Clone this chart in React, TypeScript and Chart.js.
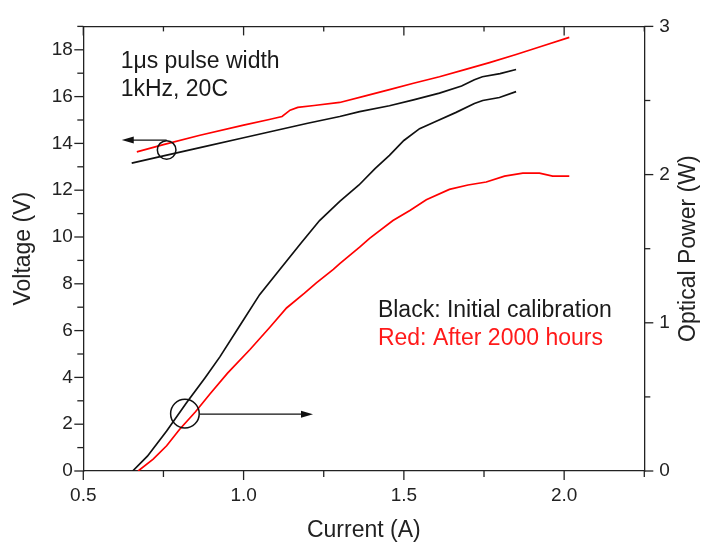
import React, { useEffect, useRef } from 'react';
import { Chart, registerables } from 'chart.js';

Chart.register(...registerables);

// ---- Data (Current in A) ----
const blackVCurrent = [0.651, 0.75, 0.864, 1.0, 1.1, 1.2, 1.3, 1.362, 1.455, 1.53, 1.611, 1.68, 1.72, 1.745, 1.8, 1.85];
const blackVoltage = [13.16, 13.47, 13.82, 14.24, 14.55, 14.86, 15.15, 15.36, 15.61, 15.86, 16.15, 16.45, 16.72, 16.85, 16.98, 17.16];

const redVCurrent = [0.667, 0.75, 0.864, 1.0, 1.08, 1.12, 1.145, 1.169, 1.22, 1.3, 1.38, 1.455, 1.53, 1.611, 1.69, 1.767, 1.85, 1.93, 2.016];
const redVoltage = [13.64, 13.95, 14.35, 14.78, 15.02, 15.15, 15.42, 15.54, 15.62, 15.75, 16.03, 16.3, 16.57, 16.85, 17.15, 17.45, 17.8, 18.15, 18.53];

const blackPCurrent = [0.654, 0.7, 0.76, 0.822, 0.88, 0.926, 0.988, 1.05, 1.113, 1.18, 1.237, 1.3, 1.36, 1.41, 1.455, 1.5, 1.549, 1.601, 1.663, 1.72, 1.746, 1.798, 1.85];
const blackPower = [0, 0.1, 0.27, 0.46, 0.63, 0.77, 0.98, 1.19, 1.36, 1.54, 1.69, 1.82, 1.93, 2.04, 2.13, 2.23, 2.31, 2.36, 2.42, 2.48, 2.5, 2.52, 2.56];

const redPCurrent = [0.671, 0.718, 0.76, 0.8, 0.85, 0.895, 0.95, 1.02, 1.082, 1.134, 1.19, 1.227, 1.28, 1.3, 1.362, 1.393, 1.466, 1.52, 1.57, 1.642, 1.7, 1.757, 1.814, 1.871, 1.923, 1.964, 2.016];
const redPower = [0, 0.08, 0.17, 0.28, 0.4, 0.52, 0.66, 0.82, 0.97, 1.1, 1.2, 1.27, 1.36, 1.4, 1.51, 1.57, 1.69, 1.76, 1.83, 1.9, 1.93, 1.95, 1.99, 2.01, 2.01, 1.99, 1.99];

// Axis ranges
const xRange = [0.5, 2.25];
const vRange = [0, 19];
const pRange = [0, 3];

// Annotation anchors in data units (current, voltage)
const circleA = { i: 0.76, v: 13.72 };
const arrowA = { from: 0.76, to: 0.62, v: 14.14 };
const circleB = { i: 0.817, v: 2.45 };
const arrowB = { from: 0.864, to: 1.2165, v: 2.43 };
const noteLines = [
  { text: '1μs pulse width', i: 0.6165, v: 17.23 },
  { text: '1kHz, 20C', i: 0.6165, v: 16.04 },
];
const legendLines = [
  { text: 'Black: Initial calibration', i: 1.419, v: 6.57, color: '#1a1a1a' },
  { text: 'Red: After 2000 hours', i: 1.419, v: 5.37, color: '#ff1a1a' },
];

const FONT = '"Liberation Sans", Arial, sans-serif';
const INK = '#222222';

const zip = (xs: number[], ys: number[]) => xs.map((x, k) => ({ x, y: ys[k] }));

const decorPlugin = {
  id: 'decor',
  afterDraw(chart: any) {
    const ctx = chart.ctx as CanvasRenderingContext2D;
    const { x, x2, y, y1 } = chart.scales;
    const area = chart.chartArea;
    ctx.save();
    ctx.strokeStyle = INK;
    ctx.lineWidth = 1.3;

    const isMult = (v: number, m: number) => Math.abs(v / m - Math.round(v / m)) < 1e-6;

    // bottom ticks (outward)
    x.ticks.forEach((t: any) => {
      const p = x.getPixelForValue(t.value);
      const len = isMult(t.value, 0.5) ? 9 : 6;
      ctx.beginPath(); ctx.moveTo(p, area.bottom); ctx.lineTo(p, area.bottom + len); ctx.stroke();
    });
    // top ticks (inward)
    x2.ticks.forEach((t: any) => {
      const p = x2.getPixelForValue(t.value);
      const len = isMult(t.value, 0.5) ? 9 : 5;
      ctx.beginPath(); ctx.moveTo(p, area.top); ctx.lineTo(p, area.top + len); ctx.stroke();
    });
    // left ticks (outward)
    y.ticks.forEach((t: any) => {
      const p = y.getPixelForValue(t.value);
      const len = isMult(t.value, 2) ? 9 : 6;
      ctx.beginPath(); ctx.moveTo(area.left, p); ctx.lineTo(area.left - len, p); ctx.stroke();
    });
    // right ticks (outward)
    y1.ticks.forEach((t: any) => {
      const p = y1.getPixelForValue(t.value);
      const len = isMult(t.value, 1) ? 9 : 6;
      ctx.beginPath(); ctx.moveTo(area.right, p); ctx.lineTo(area.right + len, p); ctx.stroke();
    });

    // right axis title (reads bottom to top)
    ctx.fillStyle = INK;
    ctx.font = `23px ${FONT}`;
    ctx.textAlign = 'center';
    ctx.textBaseline = 'middle';
    ctx.save();
    ctx.translate(688.5, y1.getPixelForValue(1.5));
    ctx.rotate(-Math.PI / 2);
    ctx.fillText('Optical Power (W)', 0, 0);
    ctx.restore();

    // circles and arrows
    ctx.strokeStyle = '#111';
    ctx.lineWidth = 1.5;
    ctx.fillStyle = '#111';
    const circle = (c: { i: number; v: number }, r: number) => {
      ctx.beginPath();
      ctx.arc(x.getPixelForValue(c.i), y.getPixelForValue(c.v), r, 0, Math.PI * 2);
      ctx.stroke();
    };
    circle(circleA, 9.3);
    circle(circleB, 14.3);
    const arrow = (a: { from: number; to: number; v: number }) => {
      const x0 = x.getPixelForValue(a.from);
      const x1 = x.getPixelForValue(a.to);
      const yy = y.getPixelForValue(a.v);
      const dir = Math.sign(x1 - x0);
      ctx.lineWidth = 1.2;
      ctx.beginPath(); ctx.moveTo(x0, yy); ctx.lineTo(x1 - dir * 8, yy); ctx.stroke();
      ctx.beginPath();
      ctx.moveTo(x1, yy);
      ctx.lineTo(x1 - dir * 12, yy - 3.5);
      ctx.lineTo(x1 - dir * 12, yy + 3.5);
      ctx.closePath();
      ctx.fill();
    };
    arrow(arrowA);
    arrow(arrowB);

    // notes
    ctx.textAlign = 'left';
    ctx.textBaseline = 'alphabetic';
    ctx.font = `23px ${FONT}`;
    ctx.fillStyle = '#1a1a1a';
    noteLines.forEach((n) => ctx.fillText(n.text, x.getPixelForValue(n.i), y.getPixelForValue(n.v)));
    legendLines.forEach((n) => {
      ctx.fillStyle = n.color;
      ctx.fillText(n.text, x.getPixelForValue(n.i), y.getPixelForValue(n.v));
    });
    ctx.restore();
  },
};

export default function App() {
  const ref = useRef<HTMLCanvasElement>(null);
  useEffect(() => {
    if (!ref.current) return;
    const tickFont = { family: FONT, size: 19 };
    const titleFont = { family: FONT, size: 23 };
    const chart = new Chart(ref.current, {
      type: 'line',
      data: {
        datasets: [
          { label: 'Voltage initial', data: zip(blackVCurrent, blackVoltage), yAxisID: 'y', borderColor: '#111111', borderWidth: 1.7, pointRadius: 0, tension: 0 },
          { label: 'Voltage 2000h', data: zip(redVCurrent, redVoltage), yAxisID: 'y', borderColor: '#ff0000', borderWidth: 1.7, pointRadius: 0, tension: 0 },
          { label: 'Power initial', data: zip(blackPCurrent, blackPower), yAxisID: 'y1', borderColor: '#111111', borderWidth: 1.7, pointRadius: 0, tension: 0 },
          { label: 'Power 2000h', data: zip(redPCurrent, redPower), yAxisID: 'y1', borderColor: '#ff0000', borderWidth: 1.7, pointRadius: 0, tension: 0 },
        ],
      },
      plugins: [decorPlugin],
      options: {
        responsive: false,
        animation: false,
        devicePixelRatio: 1,
        layout: { padding: 0 },
        plugins: { legend: { display: false }, tooltip: { enabled: false } },
        scales: {
          x: {
            type: 'linear', position: 'bottom', min: xRange[0], max: xRange[1],
            grid: { drawOnChartArea: false, drawTicks: false },
            border: { display: true, color: INK, width: 1.3 },
            ticks: {
              stepSize: 0.25, autoSkip: false, maxRotation: 0, padding: 13, color: INK, font: tickFont,
              callback: (v: any) => (Math.abs(v * 2 - Math.round(v * 2)) < 1e-6 ? Number(v).toFixed(1) : ''),
            },
            title: { display: true, text: 'Current (A)', color: INK, font: titleFont, padding: { top: 0, bottom: 1.5 } },
            afterFit: (s: any) => { s.height = 75; },
          },
          x2: {
            type: 'linear', position: 'top', min: xRange[0], max: xRange[1],
            grid: { drawOnChartArea: false, drawTicks: false },
            border: { display: true, color: INK, width: 1.3 },
            ticks: { display: false, stepSize: 0.25, autoSkip: false },
            afterFit: (s: any) => { s.height = 19.3; },
          },
          y: {
            type: 'linear', position: 'left', min: vRange[0], max: vRange[1],
            grid: { drawOnChartArea: false, drawTicks: false },
            border: { display: true, color: INK, width: 1.3 },
            ticks: {
              stepSize: 1, autoSkip: false, padding: 10.5, color: INK, font: tickFont,
              callback: (v: any) => (Number(v) % 2 === 0 ? String(v) : ''),
            },
            title: { display: true, text: 'Voltage (V)', color: INK, font: titleFont, padding: { top: 9.5, bottom: 0 } },
            afterFit: (s: any) => { s.width = 83.3; },
          },
          y1: {
            type: 'linear', position: 'right', min: pRange[0], max: pRange[1],
            grid: { drawOnChartArea: false, drawTicks: false },
            border: { display: true, color: INK, width: 1.3 },
            ticks: {
              stepSize: 0.5, autoSkip: false, padding: 15, color: INK, font: tickFont,
              callback: (v: any) => (Number.isInteger(Number(v)) ? String(v) : ''),
            },
            afterFit: (s: any) => { s.width = 56.7; },
          },
        },
      } as any,
    });
    return () => chart.destroy();
  }, []);
  return (
    <div style={{ position: 'fixed', left: 0, top: 0, width: 701, height: 546, background: '#fff' }}>
      <canvas ref={ref} width={701} height={546} style={{ display: 'block' }} />
    </div>
  );
}
